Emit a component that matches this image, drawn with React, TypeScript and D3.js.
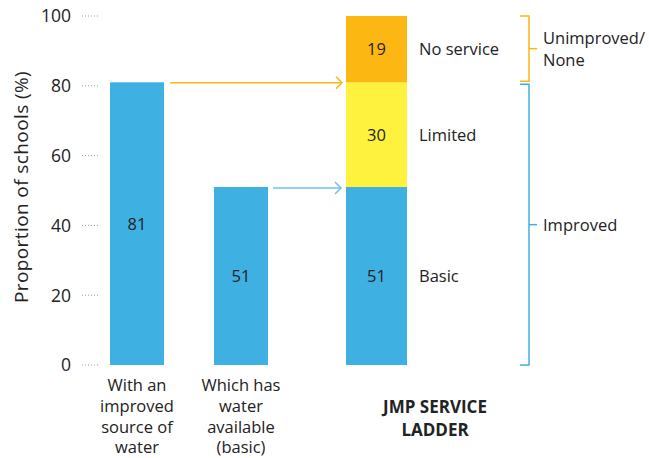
import React from 'react';
import * as d3 from 'd3';

// values
const barLabels = [
    ['With an', 'improved', 'source of', 'water'],
    ['Which has', 'water', 'available', '(basic)']
];
const barValues = [81, 51];
const ladderKeys = ['Basic', 'Limited', 'No service'];
const ladderValues = [51, 30, 19];
const ladderColors = ['#3EB0E2', '#FFF23E', '#FCB712'];
const yTicks = [0, 20, 40, 60, 80, 100];
const groups = [
    {label: ['Improved'], from: 0, to: 81, color: '#3EB0E2'},
    {label: ['Unimproved/', 'None'], from: 81, to: 100, color: '#FCB712'}
];

const W = 649;
const H = 458;
const FONT = '"Open Sans", "Noto Sans", sans-serif';
const TEXT = '#222';
const FS = 16.5;

export default function App()
{
    const y = d3.scaleLinear().domain([0, 100]).range([365, 16]);

    const x = d3.scaleOrdinal<number, number>().domain([0, 1]).range([110, 214]);
    const barW = 54;
    const ladderX = 346;
    const ladderW = 61;

    let acc = 0;
    const stacked = ladderValues.map((v, i) =>
    {
        const y0 = acc;
        acc += v;
        return {key: ladderKeys[i], value: v, y0, y1: acc, color: ladderColors[i]};
    });

    const arrowHead = (xe: number, ye: number, color: string) =>
        <path d={`M${xe - 6},${ye - 6} L${xe},${ye} L${xe - 6},${ye + 6}`} fill="none" stroke={color} strokeWidth={1.5}/>;

    return (
        <svg width={W} height={H} style={{position: 'absolute', left: 0, top: 0}} fontFamily={FONT}>
            <rect width={W} height={H} fill="#fff"/>

            {/* y axis */}
            <text transform={`translate(28,187) rotate(-90)`} textAnchor="middle" fontSize={19} letterSpacing={0.4} fill={TEXT}>
                Proportion of schools (%)
            </text>
            {yTicks.map(t =>
                <g key={t}>
                    <text x={71} y={y(t)} dy="0.36em" textAnchor="end" fontSize={17.5} fill={TEXT}>{t}</text>
                    <line x1={82} x2={98} y1={y(t)} y2={y(t)} stroke="#999" strokeWidth={1} strokeDasharray="1,2"/>
                </g>
            )}

            {/* simple bars */}
            {barValues.map((v, i) =>
                <g key={i}>
                    <rect x={x(i)} y={y(v)} width={barW} height={y(0) - y(v)} fill="#3EB0E2"/>
                    <text x={x(i) + barW / 2} y={y(v / 2)} dy="0.36em" textAnchor="middle" fontSize={FS} fill={TEXT}>{v}</text>
                    {barLabels[i].map((l, j) =>
                        <text key={j} x={x(i) + barW / 2} y={391 + j * 20.8} textAnchor="middle" fontSize={FS} fill={TEXT}>{l}</text>
                    )}
                </g>
            )}

            {/* arrows */}
            <line x1={170} x2={342} y1={y(barValues[0]) + 0.5} y2={y(barValues[0]) + 0.5} stroke="#FCB712" strokeWidth={1.5}/>
            {arrowHead(342, y(barValues[0]) + 0.5, '#FCB712')}
            <line x1={273} x2={341} y1={y(barValues[1]) + 1} y2={y(barValues[1]) + 1} stroke="#6CC3EA" strokeWidth={1.5}/>
            {arrowHead(341, y(barValues[1]) + 1, '#6CC3EA')}

            {/* ladder */}
            {stacked.map(s =>
                <g key={s.key}>
                    <rect x={ladderX} y={y(s.y1)} width={ladderW} height={y(s.y0) - y(s.y1)} fill={s.color}/>
                    <text x={ladderX + ladderW / 2} y={y((s.y0 + s.y1) / 2)} dy="0.36em" textAnchor="middle" fontSize={FS} fill={TEXT}>{s.value}</text>
                    <text x={419} y={y((s.y0 + s.y1) / 2)} dy="0.36em" fontSize={FS} fill={TEXT}>{s.key}</text>
                </g>
            )}
            <text x={435} y={413} textAnchor="middle" fontSize={17} fontWeight="bold" fill={TEXT}>JMP SERVICE</text>
            <text x={435} y={436} textAnchor="middle" fontSize={17} fontWeight="bold" fill={TEXT}>LADDER</text>

            {/* brackets */}
            {groups.map((g, i) =>
            {
                const top = y(g.to) + (i === 0 ? 2 : 0);
                const bot = y(g.from) - (i === 1 ? 1 : 0);
                const mid = (top + bot) / 2;
                return (
                    <g key={i}>
                        <path d={`M520,${top} H529 V${bot} H520`} fill="none" stroke={g.color} strokeWidth={1.5}/>
                        <line x1={529} x2={537} y1={mid} y2={mid} stroke={g.color} strokeWidth={1.5}/>
                        {g.label.map((l, j) =>
                            <text key={j} x={543} y={mid + (j - (g.label.length - 1) / 2) * 22} dy="0.36em" fontSize={FS} fill={TEXT}>{l}</text>
                        )}
                    </g>
                );
            })}
        </svg>
    );
}
